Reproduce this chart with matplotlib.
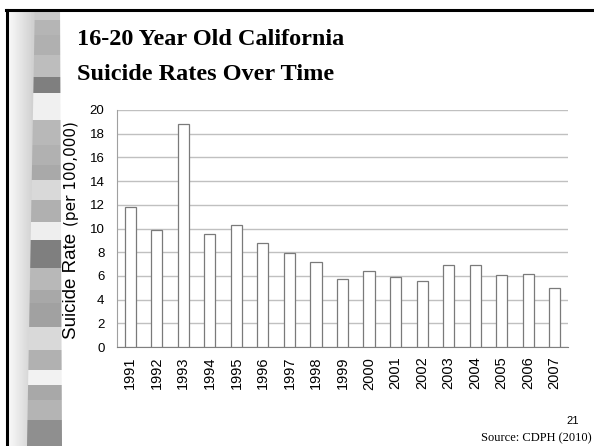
import matplotlib
matplotlib.use("Agg")
import matplotlib.pyplot as plt
from matplotlib.patches import Polygon
import numpy as np

# Suicide rates per 100,000, ages 16-20, California
years = ["1991", "1992", "1993", "1994", "1995", "1996", "1997", "1998", "1999",
         "2000", "2001", "2002", "2003", "2004", "2005", "2006", "2007"]
rates = [11.8, 9.9, 18.8, 9.5, 10.3, 8.8, 7.9, 7.2, 5.7,
         6.4, 5.9, 5.6, 6.9, 6.9, 6.1, 6.2, 5.0]
y_ticks = list(range(0, 21, 2))

W, H = 594, 446
fig = plt.figure(figsize=(W / 100, H / 100), dpi=100)
fig.patch.set_facecolor("white")

# decorative slide stripe on the left (top y, bottom y, grey level)
stripe = [
    (10, 20, "#c9c9c9"), (20, 35, "#b5b5b5"), (35, 55, "#b0b0b0"),
    (55, 77, "#bdbdbd"), (77, 93, "#7f7f7f"), (93, 120, "#f0f0f0"),
    (120, 145, "#b8b8b8"), (145, 165, "#b1b1b1"), (165, 180, "#a9a9a9"),
    (180, 200, "#d9d9d9"), (200, 222, "#b0b0b0"), (222, 240, "#eeeeee"),
    (240, 268, "#7f7f7f"), (268, 290, "#b8b8b8"), (290, 303, "#a8a8a8"),
    (303, 327, "#a1a1a1"), (327, 350, "#d9d9d9"), (350, 370, "#b1b1b1"),
    (370, 385, "#f2f2f2"), (385, 400, "#a8a8a8"), (400, 420, "#b4b4b4"),
    (420, 446, "#8f8f8f"),
]

def px(x, y):
    return x / W, 1 - y / H

# soft gradient band next to the border
grad = np.linspace(0.98, 0.80, 40).reshape(1, -1)
gax = fig.add_axes([8 / W, 0, 28 / W, 1 - 10 / H])
gax.imshow(grad, cmap="gray", vmin=0, vmax=1, aspect="auto")
gax.axis("off")

for y0, y1, c in stripe:
    xl0 = 35 - 8 * (y0 / H)
    xl1 = 35 - 8 * (y1 / H)
    pts = [px(xl0, y0), px(60 + 2 * y0 / H, y0), px(60 + 2 * y1 / H, y1), px(xl1, y1)]
    fig.add_artist(Polygon(pts, closed=True, transform=fig.transFigure,
                           facecolor=c, edgecolor="none", zorder=2))

# black slide border: top and left
fig.add_artist(plt.Line2D([6 / W, 1], [1 - 10 / H] * 2, color="black", lw=2.2,
                          transform=fig.transFigure, zorder=3))
fig.add_artist(plt.Line2D([7 / W] * 2, [0, 1 - 10 / H], color="black", lw=2.2,
                          transform=fig.transFigure, zorder=3))

# title
fig.text(77 / W, 1 - 45 / H, "16-20 Year Old California", fontsize=17.5,
         fontweight="bold", family="Liberation Serif", va="baseline")
fig.text(77 / W, 1 - 80 / H, "Suicide Rates Over Time", fontsize=17.5,
         fontweight="bold", family="Liberation Serif", va="baseline")

# chart area
ax = fig.add_axes([117 / W, 1 - 347 / H, (568 - 117) / W, (347 - 110) / H])
x = np.arange(len(years))
ax.bar(x, rates, width=0.42, color="white", edgecolor="#7a7a7a", linewidth=0.9, zorder=3)
ax.set_xlim(-0.5, len(years) - 0.5)
ax.set_ylim(0, 20)
ax.set_yticks(y_ticks)
ax.set_yticklabels([str(t) for t in y_ticks], family="Liberation Sans", fontsize=9.5)
ax.set_xticks(x)
ax.set_xticklabels(years, rotation=90, family="Liberation Sans", fontsize=10.5)
ax.tick_params(axis="y", length=0, pad=9)
ax.tick_params(axis="x", length=0, pad=7)
ax.yaxis.grid(True, color="#c0c0c0", linewidth=1)
ax.set_axisbelow(True)
for s in ["top", "right"]:
    ax.spines[s].set_visible(False)
ax.spines["left"].set_color("#a0a0a0")
ax.spines["bottom"].set_color("#808080")

# y-axis label in two sizes
fig.text(76 / W, 1 - 339 / H, "Suicide Rate", rotation=90, rotation_mode="anchor",
         ha="left", va="baseline", family="Liberation Sans", fontsize=13.5)
fig.text(76 / W, 1 - 226 / H, "(per 100,000)", rotation=90, rotation_mode="anchor",
         ha="left", va="baseline", family="DejaVu Sans", fontsize=11)

# slide number and source
fig.text(579 / W, 1 - 424 / H, "21", ha="right", va="baseline",
         family="Liberation Sans", fontsize=8)
fig.text(592 / W, 1 - 441 / H, "Source: CDPH (2010)", ha="right", va="baseline",
         family="Liberation Serif", fontsize=9)

fig.savefig("out.png", dpi=100)
